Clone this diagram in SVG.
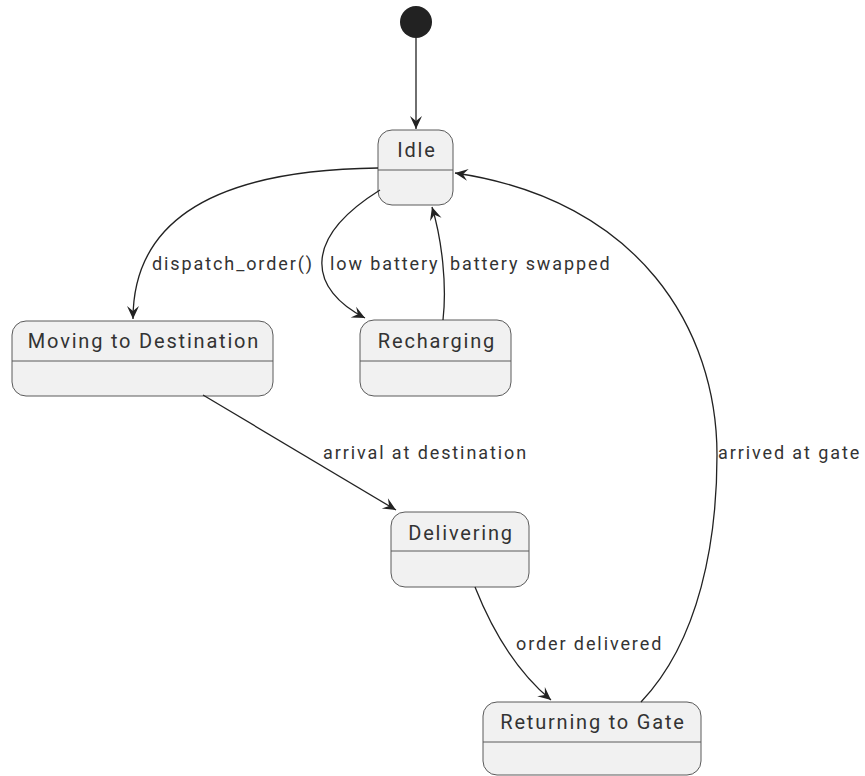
<svg xmlns="http://www.w3.org/2000/svg" width="865" height="776" viewBox="0 0 865 776">
  <style>
    .state rect { fill: #F1F1F1; stroke: #5a5a5a; stroke-width: 1; }
    .state line { stroke: #5a5a5a; stroke-width: 1; }
    .title { font-family: Roboto, "Liberation Sans", sans-serif; font-size: 20px; fill: #333333; text-anchor: middle; letter-spacing: 1.8px; }
    .edge { fill: none; stroke: #222; stroke-width: 1.3; marker-end: url(#arrow); }
    .label { font-family: Roboto, "Liberation Sans", sans-serif; font-size: 18px; fill: #333333; letter-spacing: 1.9px; }
  </style>
  <defs>
    <marker id="arrow" viewBox="-15 -8 17 16" refX="0" refY="0" markerWidth="17" markerHeight="16" markerUnits="userSpaceOnUse" orient="auto">
      <path d="M0,0 L-13,-6 L-8,0 L-13,6 Z" fill="#222"/>
    </marker>
  </defs>

  <rect width="865" height="776" fill="#ffffff"/>

  <!-- initial pseudo-state -->
  <g id="start">
    <circle cx="416" cy="22" r="16" fill="#222"/>
  </g>

  <g id="idle" class="state">
    <rect x="378" y="130" width="75" height="75" rx="14" ry="14"/>
    <line x1="378" y1="170" x2="453" y2="170"/>
    <text class="title" x="417" y="157">Idle</text>
  </g>

  <g id="moving" class="state">
    <rect x="12" y="321" width="261" height="75" rx="14" ry="14"/>
    <line x1="12" y1="361" x2="273" y2="361"/>
    <text class="title" x="144" y="348">Moving to Destination</text>
  </g>

  <g id="recharging" class="state">
    <rect x="360" y="320" width="151" height="76" rx="14" ry="14"/>
    <line x1="360" y1="361" x2="511" y2="361"/>
    <text class="title" x="437" y="348">Recharging</text>
  </g>

  <g id="delivering" class="state">
    <rect x="391" y="512" width="138" height="75" rx="14" ry="14"/>
    <line x1="391" y1="551" x2="529" y2="551"/>
    <text class="title" x="461" y="540">Delivering</text>
  </g>

  <g id="returning" class="state">
    <rect x="483" y="702" width="218" height="73" rx="14" ry="14"/>
    <line x1="483" y1="742" x2="701" y2="742"/>
    <text class="title" x="593" y="729">Returning to Gate</text>
  </g>

  <!-- transitions -->
  <g id="connectors">
    <path class="edge" d="M416,38 L416,129"/>
    <path class="edge" d="M378,168 C200,170 133,230 133,319"/>
    <path class="edge" d="M380,190 C300,240 310,290 365,318"/>
    <path class="edge" d="M443,320 C447,285 442,240 432,207"/>
    <path class="edge" d="M203,395 L396,510"/>
    <path class="edge" d="M475,587 C492,630 515,670 551,700"/>
    <path class="edge" d="M641,702 C700,640 717,540 717,455 C717,330 640,200 455,173"/>

    <text class="label" x="152" y="270">dispatch_order()</text>
    <text class="label" x="330" y="270">low battery</text>
    <text class="label" x="450" y="270">battery swapped</text>
    <text class="label" x="323" y="459">arrival at destination</text>
    <text class="label" x="516" y="650">order delivered</text>
    <text class="label" x="718" y="459">arrived at gate</text>
  </g>
</svg>
